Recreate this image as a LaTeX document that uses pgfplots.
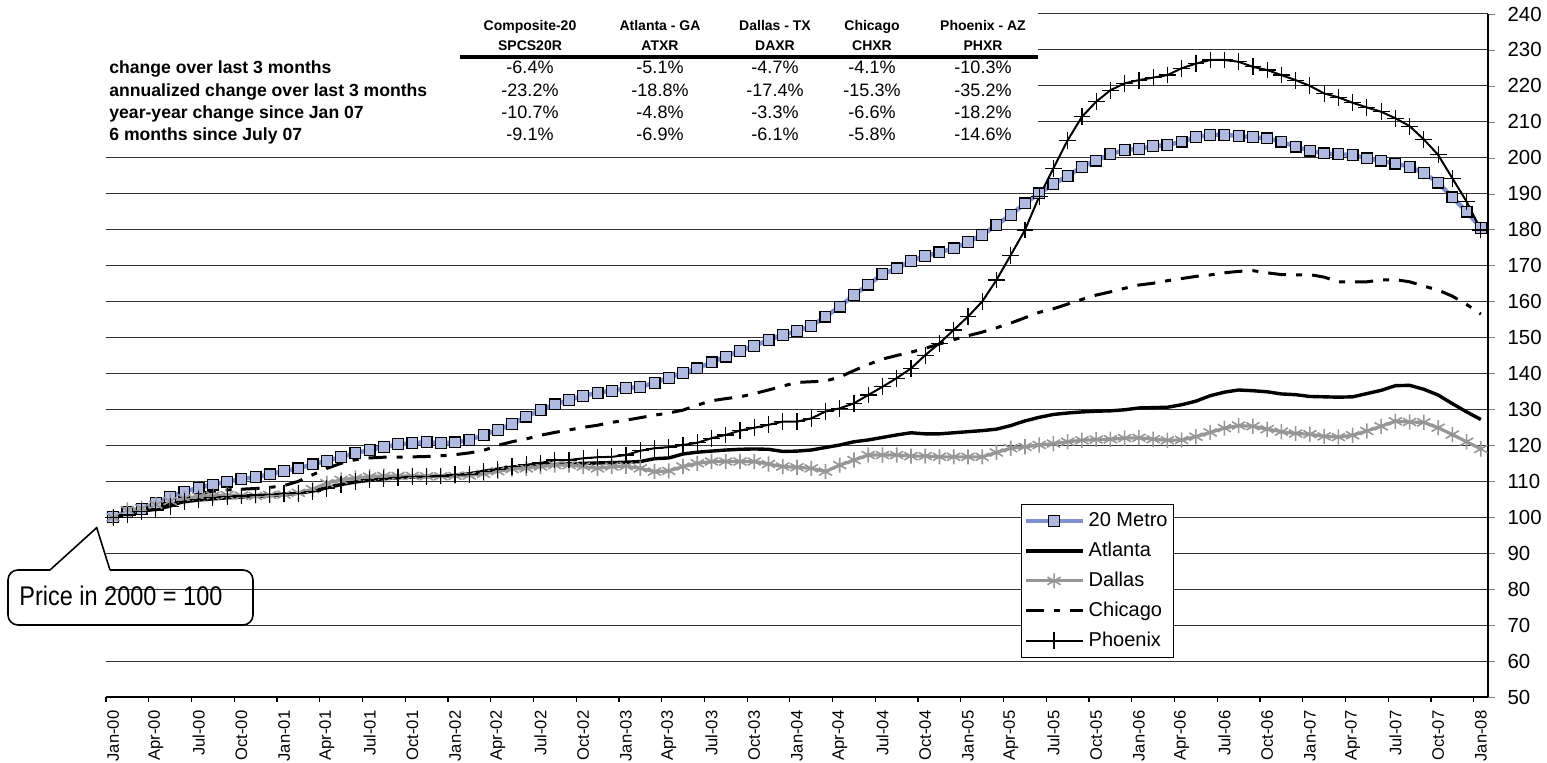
\documentclass[border=0pt]{standalone}
\usepackage{pgfplots}
\pgfplotsset{compat=1.18}
\usepackage{pgfplotstable}
\usepackage{fontspec}
\setmainfont{Liberation Sans}
\newfontfamily\narrowfont[FakeStretch=0.87]{Liberation Sans}

\definecolor{metroline}{RGB}{128,144,210}
\definecolor{metrofill}{RGB}{176,186,224}
\definecolor{dallasgray}{RGB}{150,150,150}

% monthly index, Jan-00 = 0 ... Jan-08 = 96
\pgfplotstableread{
i M A D C P
0 100.0 100.0 100.0 100.0 100.0
1 101.5 100.8 102.0 100.8 100.6
2 102.3 101.7 102.5 101.8 101.5
3 104.0 102.7 103.5 103.0 102.0
4 105.7 103.6 104.5 104.3 102.9
5 107.1 104.3 105.3 105.5 104.3
6 108.2 104.8 105.8 106.5 105.0
7 109.1 105.1 106.0 107.2 105.4
8 109.9 105.4 106.2 107.6 105.7
9 110.6 105.6 106.0 107.8 105.9
10 111.2 105.8 105.9 108.0 106.2
11 111.9 106.0 106.2 108.3 106.4
12 112.9 106.3 106.3 108.8 106.7
13 113.6 106.7 106.8 110.0 106.7
14 114.7 107.3 107.8 111.8 107.1
15 115.7 108.2 109.5 113.6 108.1
16 116.8 109.1 110.4 115.0 109.2
17 117.8 109.8 110.9 116.0 109.9
18 118.7 110.3 111.3 116.5 110.5
19 119.5 110.7 111.5 116.7 110.8
20 120.3 111.0 111.5 116.7 111.0
21 120.6 111.2 111.5 116.8 111.3
22 120.9 111.3 111.4 116.9 111.3
23 120.6 111.4 111.4 117.1 111.5
24 120.8 111.6 111.5 117.4 111.8
25 121.5 112.1 111.6 117.9 111.9
26 122.9 112.8 112.1 118.6 112.7
27 124.3 113.4 112.8 120.0 113.3
28 125.9 113.9 113.4 121.0 114.1
29 128.0 114.2 113.6 121.8 114.6
30 129.8 114.5 114.1 122.8 115.1
31 131.4 114.7 114.5 123.6 115.9
32 132.6 114.9 114.5 124.3 115.9
33 133.8 115.0 114.1 125.0 116.4
34 134.6 115.1 113.6 125.6 116.7
35 135.2 115.2 114.1 126.4 116.8
36 135.9 115.3 114.2 127.0 117.3
37 136.3 115.5 113.6 127.7 118.5
38 137.4 116.3 112.7 128.4 119.2
39 138.8 116.5 112.9 129.0 119.5
40 140.2 117.6 114.1 129.8 120.1
41 141.4 118.1 115.0 131.2 120.7
42 143.1 118.4 115.5 132.4 122.0
43 144.7 118.7 115.5 133.0 122.9
44 146.3 118.9 115.5 133.5 124.1
45 147.7 119.0 115.5 134.4 124.9
46 149.3 118.9 114.8 135.4 125.7
47 150.7 118.3 114.1 136.5 126.6
48 151.8 118.4 113.9 137.5 126.6
49 153.2 118.7 113.6 137.7 127.5
50 155.8 119.4 112.7 137.9 129.4
51 158.6 120.1 114.5 139.0 130.3
52 161.8 121.0 115.9 140.8 131.7
53 164.7 121.5 117.3 142.5 134.0
54 167.6 122.2 117.3 144.0 136.3
55 169.2 122.9 117.3 145.0 138.7
56 171.3 123.5 117.0 145.9 141.4
57 172.7 123.2 117.0 147.0 145.1
58 173.7 123.2 116.8 148.2 148.4
59 174.8 123.5 116.8 149.4 152.1
60 176.6 123.8 116.8 150.5 155.8
61 178.5 124.1 116.8 151.5 160.0
62 181.3 124.5 118.0 152.7 166.0
63 184.1 125.5 119.2 154.0 172.9
64 187.3 126.8 119.6 155.5 179.9
65 190.1 127.8 120.1 157.0 189.2
66 192.7 128.6 120.5 158.0 197.1
67 194.9 129.0 121.0 159.3 204.9
68 197.5 129.3 121.4 160.6 211.4
69 199.2 129.5 121.6 161.8 215.6
70 201.0 129.6 121.7 162.7 218.8
71 202.2 129.9 122.0 163.7 220.7
72 202.4 130.4 122.1 164.6 221.6
73 203.3 130.5 121.7 165.1 222.3
74 203.5 130.6 121.4 165.8 223.0
75 204.5 131.3 121.5 166.4 224.9
76 205.7 132.3 122.4 167.0 226.2
77 206.4 133.8 123.6 167.4 227.2
78 206.4 134.8 124.8 168.0 227.2
79 206.1 135.4 125.5 168.4 226.7
80 205.7 135.2 125.3 168.6 225.3
81 205.4 134.9 124.5 168.0 224.4
82 204.5 134.3 123.8 167.5 223.0
83 203.1 134.1 123.3 167.4 221.6
84 202.0 133.6 123.1 167.5 220.0
85 201.2 133.5 122.5 166.8 217.9
86 201.0 133.4 122.3 165.5 216.8
87 200.8 133.5 122.8 165.5 215.3
88 199.8 134.4 124.0 165.5 214.0
89 199.2 135.3 125.3 166.0 212.8
90 198.4 136.6 126.7 166.1 211.0
91 197.5 136.7 126.5 165.5 208.8
92 195.7 135.6 126.4 164.3 205.1
93 193.1 134.0 124.9 163.2 200.8
94 189.0 131.6 123.0 161.5 194.3
95 185.0 129.3 121.0 159.2 187.8
96 180.5 127.2 119.0 156.5 179.9
}\hpi

\begin{document}
\begin{tikzpicture}
\path[use as bounding box] (-53pt,-33pt) rectangle (720.5pt,348.5pt);
\begin{axis}[
    scale only axis,
    width=691pt, height=341.5pt,
    xmin=-0.5, xmax=96.5,
    ymin=50, ymax=240,
    axis x line*=bottom,
    axis y line*=right,
    axis line style={line width=0.6pt},
    tick align=outside,
    major tick length=3.3pt,
    ytick={50,60,...,240},
    ymajorgrids,
    major grid style={black!80, line width=0.5pt},
    /pgf/number format/assume math mode=true,
    yticklabel style={font=\fontsize{10.2}{12}\selectfont, xshift=3pt},
    xtick={0,3,...,96},
    xticklabels={Jan-00,Apr-00,Jul-00,Oct-00,Jan-01,Apr-01,Jul-01,Oct-01,
        Jan-02,Apr-02,Jul-02,Oct-02,Jan-03,Apr-03,Jul-03,Oct-03,
        Jan-04,Apr-04,Jul-04,Oct-04,Jan-05,Apr-05,Jul-05,Oct-05,
        Jan-06,Apr-06,Jul-06,Oct-06,Jan-07,Apr-07,Jul-07,Oct-07,Jan-08},
    xtick style={draw=none},
    xticklabel style={rotate=90, anchor=east, font=\fontsize{8.3}{9}\selectfont},
    extra x ticks={-0.5,2.5,...,95.5},
    extra x tick labels={},
    extra x tick style={xtick style={draw=black, line width=0.6pt}, major tick length=2.5pt},
    legend style={at={(0.6621,0.2826)}, anchor=north west, draw=black, fill=white,
        font=\fontsize{10}{12}\selectfont, inner xsep=1pt, inner ysep=1.5pt,
        row sep=1.5pt, nodes={inner xsep=2pt, inner ysep=2pt, text height=7.5pt, text depth=2pt}},
    legend cell align=left,
    legend image code/.code={\draw[mark repeat=2, mark phase=2, #1]
        plot coordinates {(0cm,0cm) (0.5cm,0cm) (1cm,0cm)};},
]
\addplot[color=metroline, line width=2.2pt, mark=square*, mark size=2.7pt,
    mark options={draw=black, fill=metrofill, line width=0.6pt}] table[x=i, y=M]{\hpi};
\addlegendentry{20 Metro}
\addplot[black, line width=1.7pt, no marks] table[x=i, y=A]{\hpi};
\addlegendentry{Atlanta}
\addplot[dallasgray, line width=1.6pt, mark=asterisk, mark size=3.8pt,
    mark options={line width=0.8pt}] table[x=i, y=D]{\hpi};
\addlegendentry{Dallas}
\addplot[black, line width=1.5pt, dash pattern=on 9pt off 5pt on 3pt off 5pt, no marks]
    table[x=i, y=C]{\hpi};
\addlegendentry{Chicago}
\addplot[black, line width=1pt, mark=+, mark size=4.2pt,
    mark options={solid, line width=0.6pt}] table[x=i, y=P]{\hpi};
\addlegendentry{Phoenix}
\end{axis}

% summary table in the top left corner
\fill[white] (-2pt,273.5pt) rectangle (466pt,349pt);
\begin{scope}[every node/.style={inner sep=0pt}]
  \foreach \x/\a/\b in {212/Composite-20/SPCS20R, 277/Atlanta - GA/ATXR,
                        334.5/Dallas - TX/DAXR, 383/Chicago/CHXR, 438.5/Phoenix - AZ/PHXR} {
    \node[font={\fontsize{7}{8}\selectfont\bfseries}, anchor=mid] at (\x pt,336pt) {\a};
    \node[font={\fontsize{7}{8}\selectfont\bfseries}, anchor=mid] at (\x pt,326pt) {\b};
  }
  \draw[line width=2pt] (177pt,319.85pt) -- (466pt,319.85pt);
  \foreach \y/\t in {314.25/change over last 3 months,
                     303/annualized change over last 3 months,
                     291.85/year-year change since Jan 07,
                     280.85/6 months since July 07} {
    \node[font={\fontsize{8.8}{10}\selectfont\bfseries}, anchor=mid west] at (1.5pt,\y pt) {\t};
  }
  \foreach \x/\p/\q/\r/\s in {212/-6.4/-23.2/-10.7/-9.1, 277/-5.1/-18.8/-4.8/-6.9,
                              334.5/-4.7/-17.4/-3.3/-6.1, 383/-4.1/-15.3/-6.6/-5.8,
                              438.5/-10.3/-35.2/-18.2/-14.6} {
    \node[font=\fontsize{9}{10}\selectfont, anchor=mid] at (\x pt,314.25pt) {\p\%};
    \node[font=\fontsize{9}{10}\selectfont, anchor=mid] at (\x pt,303pt) {\q\%};
    \node[font=\fontsize{9}{10}\selectfont, anchor=mid] at (\x pt,291.85pt) {\r\%};
    \node[font=\fontsize{9}{10}\selectfont, anchor=mid] at (\x pt,280.85pt) {\s\%};
  }
\end{scope}

% callout
\draw[line width=0.8pt, rounded corners=5pt]
  (2pt,63.5pt) -- (73.5pt,63.5pt) -- (73.5pt,36pt) -- (-49pt,36pt) -- (-49pt,63.5pt) -- (-28pt,63.5pt);
\draw[line width=0.8pt] (-28pt,63.5pt) -- (-4.65pt,84.65pt) -- (2pt,63.5pt);
\node[anchor=base west, inner sep=0pt, font={\narrowfont\fontsize{13.5}{15}\selectfont}]
  at (-43.5pt,45.5pt) {Price in 2000 = 100};
\end{tikzpicture}
\end{document}
